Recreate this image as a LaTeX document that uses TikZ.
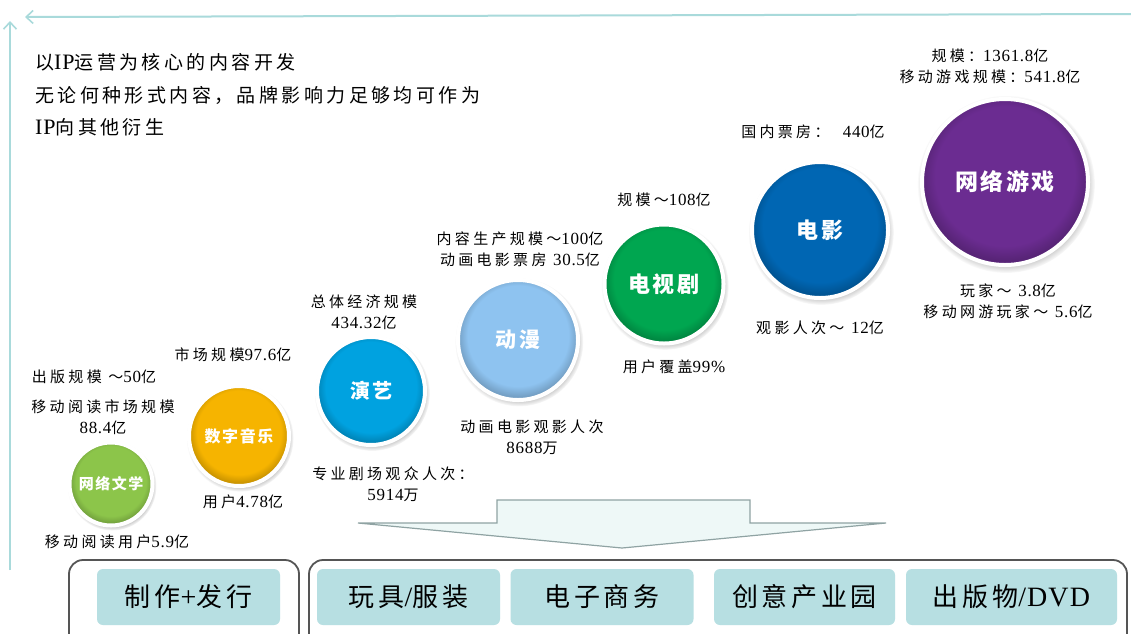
\documentclass[tikz,border=0pt]{standalone}
\usepackage{fontspec}
\setmainfont{Noto Sans CJK SC}
\newfontfamily\lblfont[LetterSpace=22]{Noto Sans CJK SC}
\newfontfamily\ttlfont[LetterSpace=18]{Noto Sans CJK SC}
\newfontfamily\boxfont[LetterSpace=14]{Noto Sans CJK SC}
\newfontfamily\discfont[LetterSpace=10]{Noto Sans CJK SC}
\newfontfamily\nf[LetterSpace=4]{Liberation Serif}
\newcommand{\lnum}[1]{{\nf\fontsize{17}{21}\selectfont #1}}
\newcommand{\tnum}[1]{{\nf\fontsize{22}{24}\selectfont #1}}
\newcommand{\bnum}[1]{{\nf\fontsize{28}{30}\selectfont #1}}
\usetikzlibrary{shadows,arrows.meta}
\definecolor{axisc}{HTML}{A9DADB}
\definecolor{cwx}{HTML}{8CC54A}
\definecolor{cyy}{HTML}{F6B400}
\definecolor{cyi}{HTML}{00A2E0}
\definecolor{cdm}{HTML}{8EC3F0}
\definecolor{cds}{HTML}{00A650}
\definecolor{cdy}{HTML}{0066B3}
\definecolor{cyx}{HTML}{6B2C91}
\definecolor{boxc}{HTML}{B7DFE2}
\definecolor{arrowfill}{HTML}{EEF8F7}
\definecolor{arrowline}{HTML}{8FA3A3}
\definecolor{brk}{HTML}{555555}
\makeatletter
\pgfdeclareradialshading[tikz@ball]{disc}{\pgfpoint{0bp}{3bp}}{color(0bp)=(tikz@ball); color(21bp)=(tikz@ball); color(25bp)=(tikz@ball!82!black); color(50bp)=(tikz@ball!82!black)}
\makeatother
\tikzset{
  discnode/.style={circle, inner sep=0pt, ball color=#1, shading=disc, draw=white, line width=4pt,
    circular drop shadow={shadow xshift=1pt, shadow yshift=-2pt, shadow scale=1.07, opacity=0.65},
    text=white},
  lbl/.style={font=\lblfont\fontsize{15}{21}\selectfont, align=center, inner sep=0pt, text=black},
  ttl/.style={font=\ttlfont\fontsize{19}{24}\selectfont, anchor=west, inner sep=0pt},
  bbox/.style={fill=boxc, rounded corners=6pt, minimum height=56pt, inner sep=0pt,
    font=\boxfont\fontsize{26}{30}\selectfont},
  axisline/.style={draw=axisc, line width=2pt, -{Straight Barb[length=7pt,width=13pt,line width=1.6pt]}},
  bracket/.style={draw=brk, line width=1.8pt, rounded corners=14pt},
}
\begin{document}
\begin{tikzpicture}[x=1pt,y=-1pt]
\useasboundingbox (0,0) rectangle (1131,633);
\clip (0,0) rectangle (1131,633);
\fill[white] (0,0) rectangle (1131,633);

% axes
\coordinate (hs) at (1131,14);
\coordinate (he) at (25,17);
\coordinate (vs) at (10,570);
\coordinate (ve) at (10,21);
\draw[axisline] (hs) -- (he);
\draw[axisline] (vs) -- (ve);

% title
\node[ttl] (t1) at (35,62) {以\tnum{IP}运营为核心的内容开发};
\node[ttl] (t2) at (35,95) {无论何种形式内容，品牌影响力足够均可作为};
\node[ttl] (t3) at (35,127) {\tnum{IP}向其他衍生};

% discs
\node[discnode=cwx, minimum size=83pt, font=\discfont\bfseries\fontsize{15}{18}\selectfont] (wx) at (111,484) {网络文学};
\node[discnode=cyy, minimum size=100pt, font=\discfont\bfseries\fontsize{16}{18}\selectfont] (yy) at (239,436) {数字音乐};
\node[discnode=cyi, minimum size=108pt, font=\discfont\bfseries\fontsize{20}{22}\selectfont] (yi) at (371,391) {演艺};
\node[discnode=cdm, minimum size=120pt, font=\discfont\bfseries\fontsize{21}{22}\selectfont] (dm) at (518,340) {动漫};
\node[discnode=cds, minimum size=119pt, font=\discfont\bfseries\fontsize{22}{24}\selectfont] (ds) at (664,284) {电视剧};
\node[discnode=cdy, minimum size=136pt, font=\discfont\bfseries\fontsize{22}{24}\selectfont] (dy) at (820,230) {电影};
\node[discnode=cyx, minimum size=166pt, font=\discfont\bfseries\fontsize{23}{26}\selectfont] (yx) at (1005,182) {网络游戏};

% labels
\node[lbl] (l1) at (94,377) {出版规模 ～\lnum{50}亿};
\node[lbl] (l2) at (103,417.5) {移动阅读市场规模\\\lnum{88.4}亿};
\node[lbl] (l3) at (117,542) {移动阅读用户\lnum{5.9}亿};
\node[lbl] (l4) at (233,355) {市场规模\lnum{97.6}亿};
\node[lbl] (l5) at (243,502) {用户\lnum{4.78}亿};
\node[lbl] (l6) at (364,312.5) {总体经济规模\\\lnum{434.32}亿};
\node[lbl] (l7) at (393,484) {专业剧场观众人次：\\\lnum{5914}万};
\node[lbl] (l8) at (520,249) {内容生产规模～\lnum{100}亿\\动画电影票房 \lnum{30.5}亿};
\node[lbl] (l9) at (532,437) {动画电影观影人次\\\lnum{8688}万};
\node[lbl] (l10) at (664,200) {规模～\lnum{108}亿};
\node[lbl] (l11) at (674,367) {用户覆盖\lnum{99\%}};
\node[lbl] (l12) at (813,132) {国内票房：\ \ \lnum{440}亿};
\node[lbl] (l13) at (820,328) {观影人次～ \lnum{12}亿};
\node[lbl] (l14) at (990,66.5) {规模：\lnum{1361.8}亿\\移动游戏规模：\lnum{541.8}亿};
\node[lbl] (l15) at (1008,301.5) {玩家～ \lnum{3.8}亿\\移动网游玩家～ \lnum{5.6}亿};

% big arrow
\draw[fill=arrowfill, draw=arrowline, line width=1.2pt, line join=miter]
  (497,500) -- (750,500) -- (750,523) -- (886,523) -- (622,548) -- (358,523) -- (497,523) -- cycle;

% brackets
\draw[bracket] (69,645) -- (69,560) -- (299,560) -- (299,645);
\draw[bracket] (309,645) -- (309,560) -- (1127,560) -- (1127,645);

% bottom boxes
\node[bbox, minimum width=183pt] (b1) at (188.5,597) {制作\bnum{+}发行};
\node[bbox, minimum width=183pt] (b2) at (408.5,597) {玩具\bnum{/}服装};
\node[bbox, minimum width=183pt] (b3) at (602,597) {电子商务};
\node[bbox, minimum width=181pt] (b4) at (804.5,597) {创意产业园};
\node[bbox, minimum width=211pt] (b5) at (1011.5,597) {出版物\bnum{/DVD}};
\end{tikzpicture}
\end{document}
